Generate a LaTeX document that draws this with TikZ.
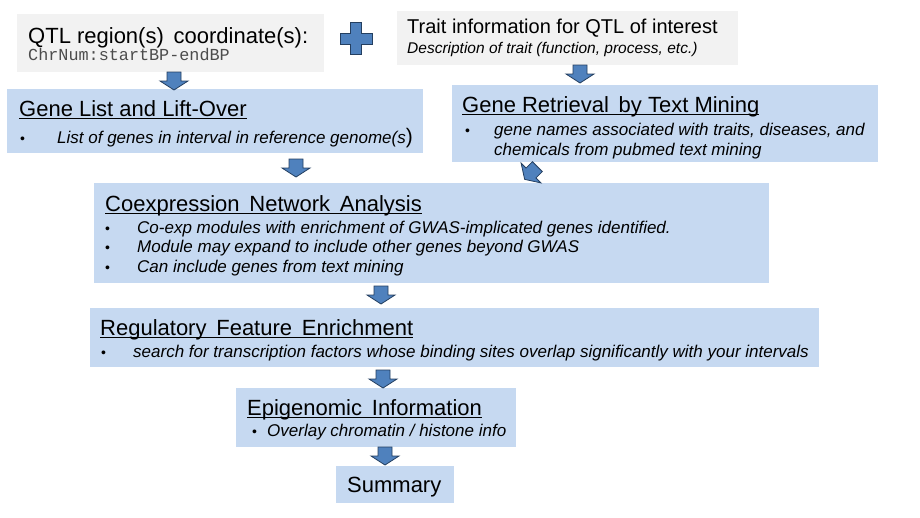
\documentclass[tikz,border=0pt]{standalone}
\usepackage{fontspec}
\setmainfont{Liberation Sans}
\setmonofont{Liberation Mono}

\definecolor{boxblue}{HTML}{C6D9F1}
\definecolor{boxgray}{HTML}{F2F2F2}
\definecolor{arrfill}{HTML}{4F81BD}
\definecolor{arrline}{HTML}{243F60}

% Unterstreichung knapp unter der Grundlinie
\newcommand{\ttlline}[1]{\setbox0\hbox{#1}\rlap{\rule[-3pt]{\wd0}{1.1pt}}\box0}

\tikzset{
  bluebox/.style={fill=boxblue, anchor=north west, inner sep=0pt},
  graybox/.style={fill=boxgray, anchor=north west, inner sep=0pt},
  boxtitle/.style={anchor=base west, inner sep=0pt, font=\fontsize{22}{22}\selectfont},
  boxitem/.style={anchor=base west, inner sep=0pt, font=\fontsize{17}{17}\selectfont\itshape},
  bulletdot/.style={anchor=base west, inner sep=0pt, font=\fontsize{14}{14}\selectfont},
  pics/blockarrow/.style={code={
    \draw[fill=arrfill, draw=arrline, line width=0.8pt]
      (-7,-9) -- (7,-9) -- (7,0) -- (14,0) -- (0,9) -- (-14,0) -- (-7,0) -- cycle;}},
}

\begin{document}
\begin{tikzpicture}[x=1pt, y=-1pt]
    \useasboundingbox (0,0) rectangle (920,517);

    % Eingaben oben
    \node[graybox, minimum width=307pt, minimum height=58pt] (qtl) at (17,14) {};
    \node[graybox, minimum width=341pt, minimum height=54pt] (trait) at (397,11) {};
    \node[boxtitle] (qtltitle) at (28,43) {QTL region(s)\, coordinate(s):};
    \node[anchor=base west, inner sep=0pt, font=\ttfamily\fontsize{16.8}{16.8}\selectfont, text=black!70] (qtlcoord) at (28,60) {ChrNum:startBP-endBP};
    \node[anchor=base west, inner sep=0pt, font=\fontsize{20}{20}\selectfont] (traittitle) at (407,33) {Trait information for QTL of interest};
    \node[anchor=base west, inner sep=0pt, font=\fontsize{15.5}{15.5}\selectfont\itshape] (traitdesc) at (407,53) {Description of trait (function, process, etc.)};

    % Pluszeichen
    \draw[fill=arrfill, draw=arrline, line width=0.8pt]
      (350.5,22.5) -- (361.5,22.5) -- (361.5,33) -- (372,33) -- (372,44) -- (361.5,44) -- (361.5,54)
      -- (350.5,54) -- (350.5,44) -- (340,44) -- (340,33) -- (350.5,33) -- cycle;

    % Gene List
    \node[bluebox, minimum width=416pt, minimum height=64pt] (genelist) at (7,89) {};
    \node[boxtitle] (genelisttitle) at (19,116) {\ttlline{Gene List and Lift-Over}};
    \node[bulletdot] (genelistdot) at (20,143) {•};
    \node[boxitem] (genelistitem) at (57,143) {List of genes in interval in reference genome(s{\upshape\fontsize{21}{21}\selectfont)}};

    % Text Mining
    \node[bluebox, minimum width=426pt, minimum height=77pt] (textmine) at (452,85) {};
    \node[boxtitle] (textminetitle) at (462,112) {\ttlline{Gene Retrieval\, by Text Mining}};
    \node[bulletdot] (textminedot) at (465,135) {•};
    \node[boxitem] (textmineitem) at (494,135) {gene names associated with traits, diseases, and};
    \node[boxitem] (textmineitemb) at (494,155) {chemicals from pubmed text mining};

    % Coexpression
    \node[bluebox, minimum width=675pt, minimum height=100pt] (coexp) at (94,183) {};
    \node[boxtitle] (coexptitle) at (105,211) {\ttlline{Coexpression\, Network\, Analysis}};
    \foreach \yy/\txt [count=\i] in {233/{Co-exp modules with enrichment of GWAS-implicated genes identified.},
                                     252/{Module may expand to include other genes beyond GWAS},
                                     272/{Can include genes from text mining}} {
      \node[bulletdot] (coexpdot\i) at (105,\yy) {•};
      \node[boxitem] (coexpitem\i) at (137,\yy) {\txt};
    }

    % Regulatory
    \node[bluebox, minimum width=729pt, minimum height=59pt] (regul) at (90,308) {};
    \node[boxtitle] (regultitle) at (100,335) {\ttlline{Regulatory\, Feature\, Enrichment}};
    \node[bulletdot] (reguldot) at (101,357) {•};
    \node[boxitem] (regulitem) at (133,357) {search for transcription factors whose binding sites overlap significantly with your intervals};

    % Epigenomic
    \node[bluebox, minimum width=280pt, minimum height=59pt] (epigen) at (236,388) {};
    \node[boxtitle] (epigentitle) at (247,415) {\ttlline{Epigenomic\, Information}};
    \node[bulletdot] (epigendot) at (252,436) {•};
    \node[boxitem] (epigenitem) at (267,436) {Overlay chromatin / histone info};

    % Summary
    \node[bluebox, minimum width=118pt, minimum height=37pt] (summary) at (336,466) {};
    \node[boxtitle] (summarytext) at (347,492) {Summary};

    % Blockpfeile
    \pic at (174,81) {blockarrow};
    \pic at (580,74) {blockarrow};
    \pic at (296,168) {blockarrow};
    \pic[rotate=-45] at (531,173) {blockarrow};
    \pic at (381,295) {blockarrow};
    \pic at (383,379) {blockarrow};
    \pic at (385,456) {blockarrow};
\end{tikzpicture}
\end{document}
